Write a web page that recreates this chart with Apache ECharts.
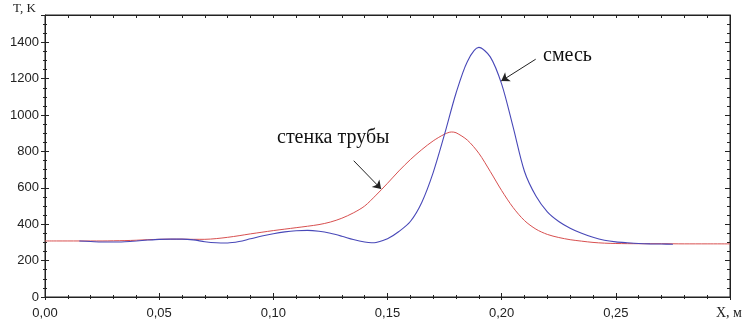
<!DOCTYPE html>
<html><head><meta charset="utf-8">
<script src="https://cdn.jsdelivr.net/npm/echarts@6/dist/echarts.min.js"></script>
<style>html,body{margin:0;padding:0;background:#fff}#c{width:748px;height:327px}</style>
</head><body><div id="c"></div>
<script>
// Wall temperature ("стенка трубы")
const xWall = [0,0.005,0.01,0.015,0.02,0.025,0.03,0.035,0.04,0.045,0.05,0.055,0.06,0.065,0.07,0.075,0.08,0.085,0.09,0.095,0.1,0.105,0.11,0.115,0.12,0.125,0.13,0.135,0.14,0.145,0.15,0.155,0.16,0.165,0.17,0.175,0.178,0.18,0.185,0.19,0.195,0.2,0.205,0.21,0.215,0.22,0.225,0.23,0.235,0.24,0.245,0.25,0.26,0.27,0.28,0.29,0.3];
const tWall = [308,308,308,308,308,308,309,310,312,315,317,318,318,317,317,321,328,337,347,356,365,373,381,389,398,412,433,462,500,560,625,693,755,810,858,895,907,903,862,790,690,585,492,420,373,344,327,315,307,300,296,294,293,293,292,292,292];
// Mixture temperature ("смесь")
const xMix = [0.015,0.02,0.025,0.03,0.035,0.04,0.045,0.05,0.055,0.06,0.065,0.07,0.075,0.08,0.085,0.09,0.095,0.1,0.105,0.11,0.115,0.12,0.125,0.13,0.135,0.14,0.143,0.145,0.15,0.155,0.16,0.165,0.17,0.175,0.18,0.185,0.19,0.195,0.2,0.205,0.21,0.215,0.22,0.225,0.23,0.235,0.24,0.245,0.25,0.255,0.26,0.265,0.27,0.275];
const tMix = [308,305,302,302,304,308,313,317,318,318,314,304,298,297,305,320,335,348,358,364,366,361,350,334,316,302,298,300,320,360,415,520,684,895,1120,1295,1372,1320,1170,935,690,555,468,415,378,350,328,312,303,298,294,292,291,290];
const xTicks = [0,0.05,0.1,0.15,0.2,0.25];
const yTicks = [0,200,400,600,800,1000,1200,1400];
const labelWall = 'стенка трубы';
const labelMix = 'смесь';

const X_MIN = 0, X_MAX = 0.30, Y_MIN = 0, Y_MAX = 1550;
const dark = '#222';
const fmtX = v => { const hit = xTicks.find(t => Math.abs(t - v) < 1e-9); return hit === undefined ? '' : hit.toFixed(2).replace('.', ','); };
const fmtY = v => yTicks.indexOf(v) >= 0 ? String(v) : '';

function xa(opts) {
  return Object.assign({type:'value', min:X_MIN, max:X_MAX, position:'bottom', offset:0,
    axisLine:{show:false, onZero:false}, axisLabel:{show:false}, splitLine:{show:false},
    axisTick:{show:true, inside:true, length:3, lineStyle:{color:dark}}, minorTick:{show:false}}, opts);
}
function ya(opts) {
  return Object.assign({type:'value', min:Y_MIN, max:Y_MAX, position:'left', offset:0,
    axisLine:{show:false, onZero:false}, axisLabel:{show:false}, splitLine:{show:false},
    axisTick:{show:true, inside:true, length:3, lineStyle:{color:dark}}, minorTick:{show:false}}, opts);
}

const chart = echarts.init(document.getElementById('c'), null, {renderer:'canvas'});
chart.setOption({
  animation:false,
  backgroundColor:'#fff',
  grid:{left:45, right:18, top:15, bottom:30, containLabel:false, show:true, borderColor:dark, borderWidth:1, backgroundColor:'transparent'},
  xAxis:[
    xa({interval:0.05, axisLine:{show:true, onZero:false, lineStyle:{color:dark, width:1}},
        axisTick:{show:true, inside:true, length:4, lineStyle:{color:dark}},
        axisLabel:{show:true, formatter:fmtX, color:'#222', fontFamily:'Liberation Sans, Arial', fontSize:13, margin:10}}),
    xa({interval:0.01, position:'top', axisLine:{show:true, onZero:false, lineStyle:{color:dark}},
        axisTick:{show:true, inside:true, length:3, lineStyle:{color:dark}}}),
    xa({interval:0.05, axisTick:{show:true, inside:false, length:3, lineStyle:{color:dark}}}),
    xa({interval:0.01, axisTick:{show:true, inside:true, length:2, lineStyle:{color:dark}}}),
    xa({interval:0.01, axisTick:{show:true, inside:false, length:2, lineStyle:{color:dark}}})
  ],
  yAxis:[
    ya({interval:200, axisLine:{show:true, onZero:false, lineStyle:{color:dark, width:1}},
        axisTick:{show:true, inside:true, length:4, lineStyle:{color:dark}},
        axisLabel:{show:true, formatter:fmtY, color:'#222', fontFamily:'Liberation Sans, Arial', fontSize:13, margin:6}}),
    ya({interval:50, position:'right', axisLine:{show:true, onZero:false, lineStyle:{color:dark}},
        axisTick:{show:true, inside:true, length:3, lineStyle:{color:dark}}}),
    ya({interval:200, axisTick:{show:true, inside:false, length:4, lineStyle:{color:dark}}}),
    ya({interval:50, axisTick:{show:true, inside:true, length:2, lineStyle:{color:dark}}}),
    ya({interval:50, axisTick:{show:true, inside:false, length:2, lineStyle:{color:dark}}}),
    ya({interval:200, position:'right', axisTick:{show:true, inside:true, length:5, lineStyle:{color:dark}}})
  ],
  series:[
    {type:'line', name:labelWall, xAxisIndex:0, yAxisIndex:0, showSymbol:false, smooth:0.3,
     lineStyle:{color:'#d85050', width:1}, data:xWall.map((x,i)=>[x,tWall[i]]), z:2,
     markLine:{silent:true, symbol:['none','arrow'], symbolSize:8, label:{show:false},
       lineStyle:{color:'#222', width:1, type:'solid'},
       data:[[{coord:[0.1352,749]},{coord:[0.1472,594]}]]}},
    {type:'line', name:labelMix, xAxisIndex:0, yAxisIndex:0, showSymbol:false, smooth:0.3,
     lineStyle:{color:'#4848b8', width:1.1}, data:xMix.map((x,i)=>[x,tMix[i]]), z:3,
     markLine:{silent:true, symbol:['none','arrow'], symbolSize:8, label:{show:false},
       lineStyle:{color:'#222', width:1, type:'solid'},
       data:[[{coord:[0.2149,1307]},{coord:[0.1998,1187]}]]}}
  ],
  graphic:[
    {type:'text', left:13, top:2, style:{text:'T, K', fill:'#222', font:'13px "Liberation Serif", serif'}},
    {type:'text', left:716, top:306, style:{text:'X, м', fill:'#222', font:'14px "Liberation Serif", serif'}},
    {type:'text', left:277, top:128, style:{text:labelWall, fill:'#111', font:'20px "Liberation Serif", serif'}},
    {type:'text', left:543, top:46, style:{text:labelMix, fill:'#111', font:'20px "Liberation Serif", serif'}}
  ]
});
</script>
</body></html>
